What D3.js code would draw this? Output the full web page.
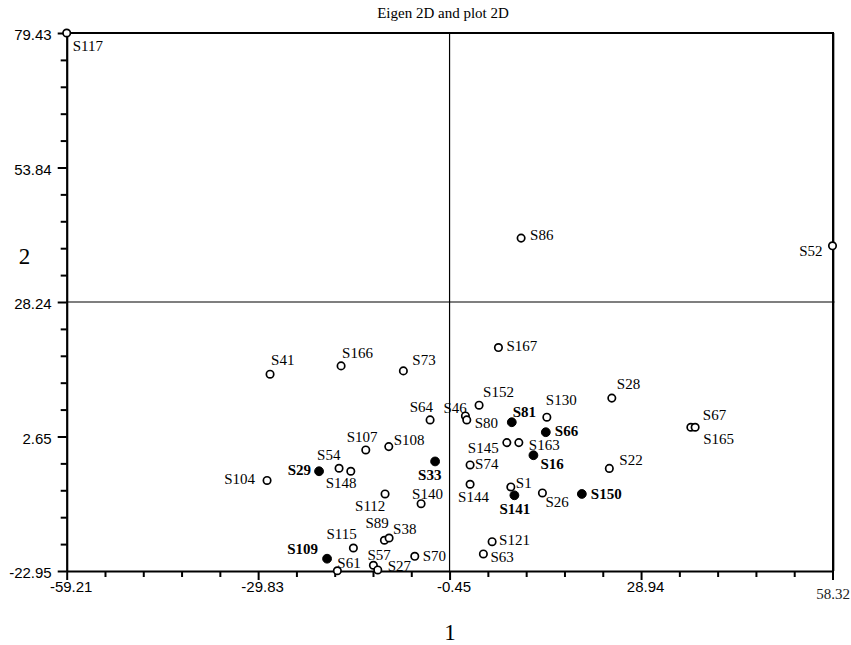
<!DOCTYPE html>
<html>
<head>
<meta charset="utf-8">
<script src="https://cdn.jsdelivr.net/npm/d3@7/dist/d3.min.js"></script>
<style>
  html, body { margin: 0; padding: 0; background: #fff; }
  svg { display: block; }
</style>
</head>
<body>
<svg id="chart" width="851" height="645"></svg>
<script>
// ---------------- data ----------------
const sampleNames = ["S117","S41","S166","S73","S64","S107","S108","S54","S148","S104","S112","S140",
  "S89","S38","S115","S61","S57","S27","S70","S167","S152","S46","S80","S130","S145","S163","S74",
  "S28","S22","S144","S1","S26","S121","S63","S67","S165","S86","S52",
  "S29","S33","S109","S81","S66","S16","S141","S150"];
const pc1Values = [-59.21,-28.00,-17.10,-7.54,-3.44,-13.31,-9.78,-17.41,-15.61,-28.46,-10.35,-4.82,
  -10.45,-9.73,-15.21,-17.67,-12.14,-11.47,-5.79,7.05,4.08,1.98,2.19,14.48,8.34,10.18,2.70,
  24.45,24.07,2.70,8.95,13.80,6.08,4.74,36.58,37.24,10.53,58.32,
  -20.48,-2.67,-19.25,9.10,14.32,12.42,9.50,19.85];
const pc2Values = [79.43,14.50,16.08,15.13,5.80,0.09,0.72,-3.40,-3.97,-5.72,-8.29,-10.14,
  -17.10,-16.67,-18.57,-22.90,-21.86,-22.75,-20.15,19.57,8.60,6.56,5.80,6.32,1.48,1.48,-2.77,
  9.95,-3.43,-6.44,-6.96,-8.10,-17.37,-19.71,4.41,4.41,40.40,38.93,
  -3.97,-2.10,-20.61,5.36,3.46,-0.92,-8.54,-8.29];
const highlightedSamples = ["S29","S33","S109","S81","S66","S16","S141","S150"];

const xTickValues = [-59.21, -29.83, -0.45, 28.94, 58.32];
const xTickLabels = ["-59.21", "-29.83", "-0.45", "28.94", "58.32"];
const yTickValues = [-22.95, 2.65, 28.24, 53.84, 79.43];
const yTickLabels = ["-22.95", "2.65", "28.24", "53.84", "79.43"];
const crossX = -0.45, crossY = 28.24;

const titleText = "Eigen 2D and plot 2D";
const xAxisTitle = "1";
const yAxisTitle = "2";

// ------------- label layout (pixel offsets from the marker) -------------
const labelLayout = {
  S117:[6,18,"start"], S41:[1,-9,"start"], S166:[1,-8,"start"], S73:[9,-6,"start"],
  S64:[3,-8,"end"], S107:[-19,-8,"start"], S108:[5,-2,"start"], S29:[-8,4,"end"],
  S54:[-22,-8,"start"], S148:[-25,17,"start"], S33:[-17,18.5,"start"], S104:[-12,3.5,"end"],
  S112:[-30,17,"start"], S140:[-9,-5,"start"], S89:[-19,-12,"start"], S38:[4,-4,"start"],
  S115:[-27,-9,"start"], S109:[-9,-5,"end"], S61:[0,-3,"start"], S57:[-6,-5,"start"],
  S27:[10,1,"start"], S70:[8,5,"start"], S167:[8,3,"start"], S152:[4,-8,"start"],
  S46:[-22,-3,"start"], S80:[8,8,"start"], S81:[1,-5,"start"], S130:[-1,-12,"start"],
  S66:[9,4,"start"], S145:[-39,10,"start"], S163:[10,7,"start"], S16:[7,14,"start"],
  S74:[5,4,"start"], S28:[5,-9,"start"], S22:[10,-3.5,"start"], S144:[-12,18,"start"],
  S1:[5,1,"start"], S141:[-15,19,"start"], S26:[3,14,"start"], S150:[9,5,"start"],
  S121:[7,3,"start"], S63:[7,8,"start"], S67:[12,-7,"start"], S165:[8,17,"start"],
  S86:[9,2,"start"], S52:[-10,10,"end"]
};

// ---------------- chart ----------------
const svg = d3.select("#chart");
const plot = { left: 66.7, right: 832.5, top: 33, bottom: 571 };
const sansFont = "'Liberation Sans', Arial, sans-serif";
const serifFont = "'Liberation Serif', 'Times New Roman', serif";

const x = d3.scaleLinear().domain([xTickValues[0], xTickValues[xTickValues.length-1]])
  .range([plot.left, plot.right]);
const y = d3.scaleLinear().domain([yTickValues[0], yTickValues[yTickValues.length-1]])
  .range([plot.bottom, plot.top]);

function minorTicks(majors) {
  const out = [];
  for (let i = 0; i < majors.length - 1; i++) {
    const a = majors[i], b = majors[i+1];
    for (let k = 1; k < 5; k++) out.push(a + (b - a) * k / 5);
  }
  return out;
}

// box: top and right border (right with a grey shadow)
svg.append("line").attr("x1", plot.right + 2).attr("x2", plot.right + 2)
  .attr("y1", plot.top).attr("y2", plot.bottom).attr("stroke", "#aaa").attr("stroke-width", 1);
svg.append("line").attr("x1", plot.left).attr("x2", plot.right + 1)
  .attr("y1", plot.top).attr("y2", plot.top).attr("stroke", "#000").attr("stroke-width", 2);
svg.append("line").attr("x1", plot.right + 0.5).attr("x2", plot.right + 0.5)
  .attr("y1", plot.top - 1).attr("y2", plot.bottom).attr("stroke", "#000").attr("stroke-width", 2);

// crosshair
svg.append("line").attr("x1", x(crossX)).attr("x2", x(crossX))
  .attr("y1", plot.top).attr("y2", plot.bottom).attr("stroke", "#000").attr("stroke-width", 1.2);
svg.append("line").attr("x1", plot.left).attr("x2", plot.right + 2)
  .attr("y1", y(crossY)).attr("y2", y(crossY)).attr("stroke", "#000").attr("stroke-width", 1.2);

// minor ticks
svg.append("g").attr("transform", `translate(0,${plot.bottom})`)
  .call(d3.axisBottom(x).tickValues(minorTicks(xTickValues)).tickSize(6).tickFormat(""))
  .call(g => g.select(".domain").remove())
  .selectAll("line").attr("stroke-width", 2);
svg.append("g").attr("transform", `translate(${plot.left},0)`)
  .call(d3.axisLeft(y).tickValues(minorTicks(yTickValues)).tickSize(6).tickFormat(""))
  .call(g => g.select(".domain").remove())
  .selectAll("line").attr("stroke-width", 2);

// major x axis
const xAxisG = svg.append("g").attr("transform", `translate(0,${plot.bottom})`)
  .call(d3.axisBottom(x).tickValues(xTickValues).tickSize(9).tickSizeOuter(0).tickPadding(1)
    .tickFormat((d, i) => xTickLabels[i]));
xAxisG.select(".domain").attr("stroke-width", 2.2);
xAxisG.selectAll("line").attr("stroke-width", 2);
xAxisG.selectAll("text").attr("font-family", sansFont).attr("font-size", 15)
  .attr("fill", "#000").attr("dx", 4);
// last label is drawn in serif, lower
xAxisG.selectAll(".tick").filter((d, i) => i === xTickValues.length - 1).select("text")
  .attr("font-family", serifFont).attr("fill", "#222").attr("dx", 0).attr("y", 17);

// major y axis
const yAxisG = svg.append("g").attr("transform", `translate(${plot.left},0)`)
  .call(d3.axisLeft(y).tickValues(yTickValues).tickSize(9).tickSizeOuter(0).tickPadding(6)
    .tickFormat((d, i) => yTickLabels[i]));
yAxisG.select(".domain").attr("stroke-width", 2.2);
yAxisG.selectAll("line").attr("stroke-width", 2);
yAxisG.selectAll("text").attr("font-family", sansFont).attr("font-size", 15)
  .attr("fill", "#000").attr("dy", "0.45em");

// titles
svg.append("text").attr("x", 443).attr("y", 18).attr("text-anchor", "middle")
  .attr("font-family", serifFont).attr("font-size", 15).text(titleText);
svg.append("text").attr("x", 450).attr("y", 640).attr("text-anchor", "middle")
  .attr("font-family", serifFont).attr("font-size", 23).text(xAxisTitle);
svg.append("text").attr("x", 24.5).attr("y", 264).attr("text-anchor", "middle")
  .attr("font-family", serifFont).attr("font-size", 23).text(yAxisTitle);

// points
const points = sampleNames.map((n, i) => ({
  name: n, pc1: pc1Values[i], pc2: pc2Values[i], hl: highlightedSamples.includes(n)
}));

const pg = svg.append("g");
pg.selectAll("circle").data(points).join("circle")
  .attr("cx", d => x(d.pc1)).attr("cy", d => y(d.pc2))
  .attr("r", d => d.hl ? 4.4 : 3.7)
  .attr("fill", d => d.hl ? "#000" : "#fff")
  .attr("stroke", "#000").attr("stroke-width", d => d.hl ? 1 : 1.7);

pg.selectAll("text").data(points).join("text")
  .attr("x", d => x(d.pc1) + labelLayout[d.name][0])
  .attr("y", d => y(d.pc2) + labelLayout[d.name][1])
  .attr("text-anchor", d => labelLayout[d.name][2])
  .attr("font-family", serifFont).attr("font-size", 15)
  .attr("font-weight", d => d.hl ? "bold" : "normal")
  .attr("fill", "#000")
  .text(d => d.name);
</script>
</body>
</html>
